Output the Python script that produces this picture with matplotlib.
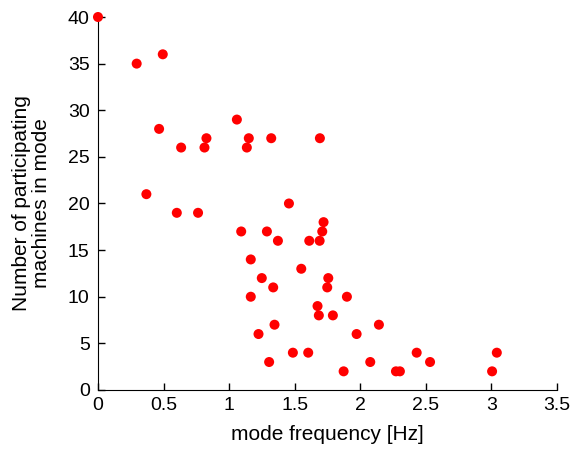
import matplotlib.pyplot as plt

plt.rcParams['font.family'] = ['Liberation Sans', 'DejaVu Sans']

# mode frequency [Hz] and number of participating machines
freq = [0.0, 0.295, 0.494, 1.059, 0.466, 0.827, 1.150, 1.321, 1.692,
        0.634, 0.812, 1.135, 0.369, 1.456, 0.601, 0.763, 1.720, 1.092,
        1.288, 1.710, 1.372, 1.611, 1.690, 1.165, 1.550, 1.249, 1.756,
        1.336, 1.748, 1.165, 1.674, 1.684, 1.791, 1.346, 1.224, 1.486,
        1.603, 1.305, 1.898, 2.142, 1.972, 2.430, 3.041, 2.076, 2.532,
        1.873, 2.272, 2.302, 3.005]
machines = [40, 35, 36, 29, 28, 27, 27, 27, 27,
            26, 26, 26, 21, 20, 19, 19, 18, 17,
            17, 17, 16, 16, 16, 14, 13, 12, 12,
            11, 11, 10, 9, 8, 8, 7, 6, 4,
            4, 3, 10, 7, 6, 4, 4, 3, 3,
            2, 2, 2, 2]

fig = plt.figure(figsize=(5.71, 4.51), dpi=100)
ax = fig.add_axes([0.1716, 0.1353, 0.8039, 0.827])

ax.scatter(freq, machines, s=52, color='#ff0000', edgecolors='none',
           clip_on=False, zorder=3)

ax.set_xlim(0, 3.5)
ax.set_ylim(0, 40)
ax.set_xticks([0, 0.5, 1, 1.5, 2, 2.5, 3, 3.5])
ax.set_xticklabels(['0', '0.5', '1', '1.5', '2', '2.5', '3', '3.5'])
ax.set_yticks(range(0, 41, 5))

ax.spines['top'].set_visible(False)
ax.spines['right'].set_visible(False)
ax.tick_params(direction='in', length=5, labelsize=14, width=1)
ax.tick_params(axis='x', pad=5)
ax.tick_params(axis='y', pad=6)

ax.set_xlabel('mode frequency [Hz]', fontsize=15, labelpad=8)
ax.set_ylabel('Number of participating\nmachines in mode', fontsize=15,
              labelpad=12, linespacing=1.05)

fig.savefig('out.png', dpi=100)
